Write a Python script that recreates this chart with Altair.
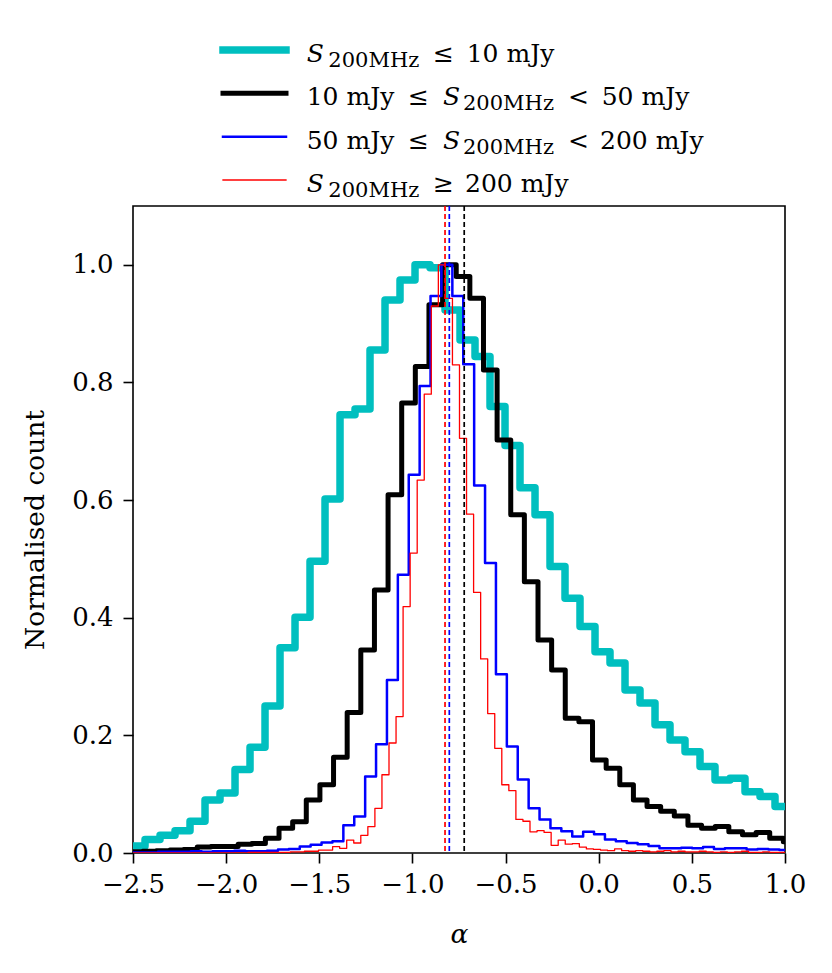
import numpy as np
import pandas as pd
import altair as alt

# ---------------- data ----------------
SERIES = ["cyan", "black", "blue", "red"]
COLORS = ["#00BFBF", "#000000", "#0000FF", "#FF0000"]
WIDTHS = [7.5, 5.0, 2.5, 1.3]

# histogram bins: first edge, bin width, normalised counts per bin
CYAN_START, CYAN_WIDTH = -2.516, 0.08052
CYAN_VALUES = [0.012, 0.023, 0.030, 0.038, 0.054, 0.090, 0.102, 0.142, 0.180, 0.250,
               0.349, 0.401, 0.496, 0.602, 0.745, 0.755, 0.855, 0.940, 0.974, 1.000,
               0.995, 0.923, 0.872, 0.844, 0.759, 0.693, 0.621, 0.575, 0.487, 0.433,
               0.385, 0.342, 0.323, 0.277, 0.255, 0.218, 0.192, 0.172, 0.147, 0.124,
               0.127, 0.104, 0.096, 0.079, 0.065]

BLACK_START, BLACK_WIDTH = -2.521, 0.07317
BLACK_VALUES = [0.002, 0.003, 0.004, 0.005, 0.006, 0.010, 0.011, 0.011, 0.015, 0.016,
                0.025, 0.042, 0.053, 0.090, 0.116, 0.163, 0.239, 0.345, 0.447, 0.609,
                0.765, 0.827, 0.932, 1.000, 0.980, 0.943, 0.821, 0.702, 0.575, 0.461,
                0.362, 0.311, 0.229, 0.223, 0.158, 0.144, 0.116, 0.090, 0.079, 0.071,
                0.063, 0.047, 0.042, 0.045, 0.036, 0.031, 0.035, 0.025, 0.019]

BLUE_START, BLUE_WIDTH = -2.541, 0.05851
BLUE_VALUES = [0.001, 0.001, 0.001, 0.002, 0.002, 0.002, 0.003, 0.002, 0.003, 0.003,
               0.004, 0.003, 0.003, 0.004, 0.006, 0.007, 0.011, 0.014, 0.018, 0.020,
               0.047, 0.062, 0.130, 0.185, 0.294, 0.473, 0.643, 0.794, 0.947, 1.000,
               0.947, 0.831, 0.625, 0.493, 0.304, 0.181, 0.125, 0.076, 0.057, 0.042,
               0.037, 0.028, 0.036, 0.032, 0.023, 0.020, 0.017, 0.015, 0.012, 0.008,
               0.008, 0.009, 0.008, 0.010, 0.007, 0.008, 0.008, 0.006, 0.007, 0.006,
               0.005]

RED_START, RED_WIDTH = -2.526, 0.037844
RED_VALUES = [0.000, 0.000, 0.000, 0.000, 0.000, 0.000, 0.000, 0.000, 0.000, 0.000,
              0.000, 0.000, 0.000, 0.000, 0.000, 0.000, 0.000, 0.001, 0.001, 0.001,
              0.001, 0.001, 0.001, 0.002, 0.002, 0.003, 0.003, 0.005, 0.005, 0.011,
              0.008, 0.022, 0.017, 0.030, 0.045, 0.076, 0.133, 0.187, 0.232, 0.419,
              0.510, 0.634, 0.780, 0.930, 1.000, 0.943, 0.830, 0.705, 0.576, 0.443,
              0.330, 0.237, 0.178, 0.116, 0.106, 0.057, 0.054, 0.036, 0.038, 0.035,
              0.013, 0.022, 0.015, 0.016, 0.010, 0.007, 0.006, 0.005, 0.004, 0.007,
              0.004, 0.003, 0.004, 0.003, 0.002, 0.003, 0.004, 0.002, 0.003, 0.002,
              0.002, 0.003, 0.002, 0.001, 0.002, 0.001, 0.002, 0.003, 0.001, 0.001,
              0.002, 0.001, 0.001, 0.001]

# medians (dashed vertical lines)
MEDIAN_SERIES = ["black", "blue", "red"]
MEDIAN_VALUES = [-0.722, -0.802, -0.825]

X_TICKS = [-2.5, -2.0, -1.5, -1.0, -0.5, 0.0, 0.5, 1.0]
Y_TICKS = [0.0, 0.2, 0.4, 0.6, 0.8, 1.0]

LEGEND_LABELS = [
    [("S", "it"), ("200MHz", "sub"), ("≤", "rm"), ("10 mJy", "rm")],
    [("10 mJy", "rm"), ("≤", "rm"), ("S", "it"), ("200MHz", "sub"), ("<", "rm"), ("50 mJy", "rm")],
    [("50 mJy", "rm"), ("≤", "rm"), ("S", "it"), ("200MHz", "sub"), ("<", "rm"), ("200 mJy", "rm")],
    [("S", "it"), ("200MHz", "sub"), ("≥", "rm"), ("200 mJy", "rm")],
]

# ---------------- layout (pixels) ----------------
W, H = 652, 647
FONT = "DejaVu Serif"
FS = 26
FS_TITLE = 26.5
FS_LEG = 25
FS_SUB = 21
LEG_ROW_Y = [-156, -112.7, -69.3, -26]
LEG_LINE_X = [90, 153]
LEG_SEG_X = [
    [173.7, 195.3, 300, 333.7],
    [173.7, 275, 310, 330, 435, 468.7],
    [173.7, 275, 310, 330, 435, 467],
    [173.7, 195.3, 300, 332],
]


def step_frame(name, start, width, values):
    edges = start + width * np.arange(len(values) + 1)
    xs = [edges[0]] + list(edges[:-1]) + [edges[-1], edges[-1]]
    ys = [0.0] + list(values) + [values[-1], 0.0]
    return pd.DataFrame({"x": xs, "y": ys, "i": range(len(xs)), "series": name})


hist_frames = {
    "cyan": step_frame("cyan", CYAN_START, CYAN_WIDTH, CYAN_VALUES),
    "black": step_frame("black", BLACK_START, BLACK_WIDTH, BLACK_VALUES),
    "blue": step_frame("blue", BLUE_START, BLUE_WIDTH, BLUE_VALUES),
    "red": step_frame("red", RED_START, RED_WIDTH, RED_VALUES),
}

x_enc = alt.X("x:Q", scale=alt.Scale(domain=[-2.5, 1.0], nice=False, zero=False),
              axis=alt.Axis(values=X_TICKS, format=".1f", title="α", labelFlush=False,
                            labelOverlap=False, titleFontStyle="italic", titlePadding=24))
y_enc = alt.Y("y:Q", scale=alt.Scale(domain=[0, 1.1], nice=False, zero=False),
              axis=alt.Axis(values=Y_TICKS, format=".1f", title="Normalised count",
                            labelFlush=False, labelOverlap=False, titlePadding=22))

layers = []
for name, color, width in zip(SERIES, COLORS, WIDTHS):
    layers.append(
        alt.Chart(hist_frames[name]).mark_line(
            interpolate="step-after", color=color, strokeWidth=width,
            strokeJoin="round", clip=True
        ).encode(x=x_enc, y=y_enc, order="i:Q")
    )

med_df = pd.DataFrame({"x": MEDIAN_VALUES, "series": MEDIAN_SERIES})
medians = alt.Chart(med_df).mark_rule(strokeDash=[5, 3], strokeWidth=1.7).encode(
    x=x_enc,
    color=alt.Color("series:N", scale=alt.Scale(domain=SERIES, range=COLORS), legend=None),
)
main = alt.layer(*layers, medians)

# ---------------- legend (pixel scales) ----------------
LX = alt.Scale(domain=[0, W], range=[0, W], nice=False, zero=False)
LY = alt.Scale(domain=[0, H], range=[0, H], nice=False, zero=False)

leg_layers = []
for k, (name, color, width) in enumerate(zip(SERIES, COLORS, WIDTHS)):
    df = pd.DataFrame({"x1": [LEG_LINE_X[0]], "x2": [LEG_LINE_X[1]], "y": [LEG_ROW_Y[k]]})
    leg_layers.append(
        alt.Chart(df).mark_rule(color=color, strokeWidth=width, strokeCap="square").encode(
            x=alt.X("x1:Q", scale=LX, axis=None), x2="x2:Q",
            y=alt.Y("y:Q", scale=LY, axis=None))
    )

rows = []
for k, segs in enumerate(LEGEND_LABELS):
    for (txt, style), px in zip(segs, LEG_SEG_X[k]):
        base = LEG_ROW_Y[k] + 12
        rows.append({"t": txt, "style": style, "px": px,
                     "py": base + (5 if style == "sub" else 0)})
leg_text = pd.DataFrame(rows)

for style, size, fstyle in [("rm", FS_LEG, "normal"), ("it", FS_LEG, "italic"), ("sub", FS_SUB, "normal")]:
    leg_layers.append(
        alt.Chart(leg_text[leg_text["style"] == style]).mark_text(
            align="left", baseline="alphabetic", font=FONT, fontSize=size,
            fontStyle=fstyle, color="black"
        ).encode(x=alt.X("px:Q", scale=LX, axis=None), y=alt.Y("py:Q", scale=LY, axis=None),
                 text="t:N")
    )
legend = alt.layer(*leg_layers)

chart = alt.layer(main, legend).resolve_scale(x="independent", y="independent").properties(
    width=W, height=H,
    autosize=alt.AutoSizeParams(type="none"),
    padding={"left": 125, "top": 198, "right": 30, "bottom": 110},
).configure_view(stroke="black", strokeWidth=1.6).configure_axis(
    labelFont=FONT, labelFontSize=FS, labelColor="black", labelPadding=8,
    tickColor="black", tickSize=10, tickWidth=1.6, domain=False, grid=False,
    titleFont=FONT, titleFontSize=FS_TITLE, titleFontWeight="normal", titleColor="black",
).configure_axisY(labelPadding=10)

chart.save("out.html", embed_options={"renderer": "svg", "actions": False})
